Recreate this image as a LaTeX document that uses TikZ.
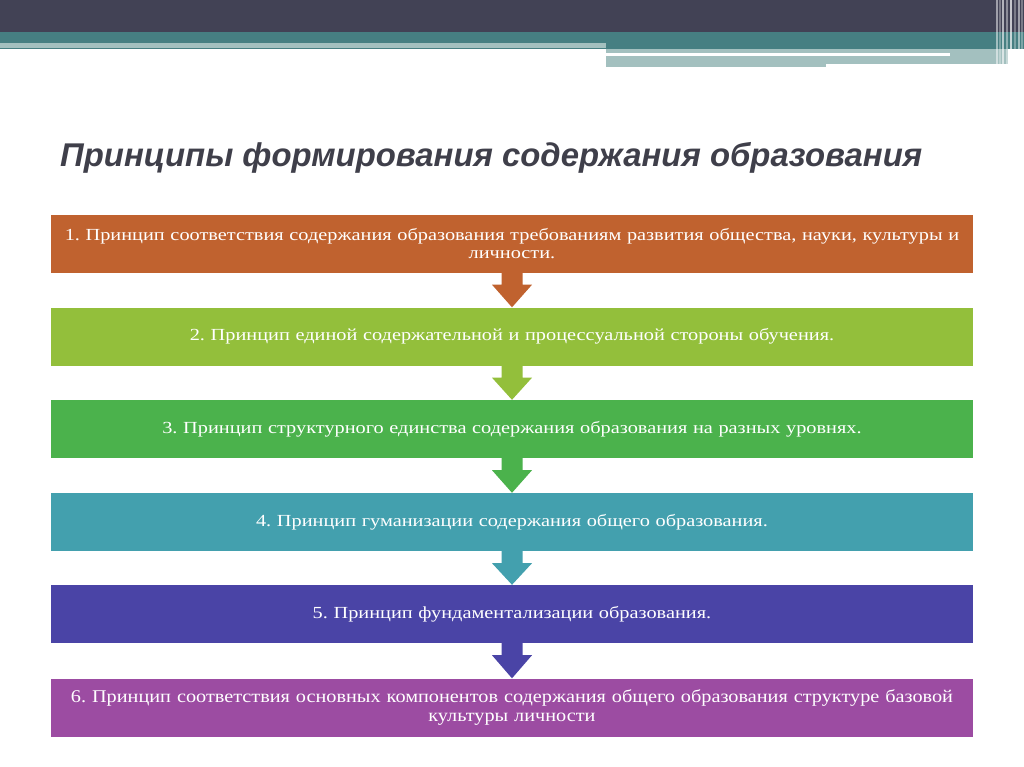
\documentclass[tikz,border=0pt]{standalone}
\usepackage{fontspec}
\setmainfont{Liberation Serif}
\newfontfamily\titlefont{Liberation Sans}
\newfontfamily\boxfont[FakeStretch=1.2]{Liberation Serif}
\newfontfamily\boxfontb[FakeStretch=1.13]{Liberation Serif}
\usetikzlibrary{calc}
\definecolor{cDark}{HTML}{424255}
\definecolor{cTeal}{HTML}{467F82}
\definecolor{cLight}{HTML}{A3C0BF}
\definecolor{cTitle}{HTML}{3F3F4A}
\definecolor{cA}{HTML}{C0622F}
\definecolor{cB}{HTML}{93BF3B}
\definecolor{cC}{HTML}{4BB24C}
\definecolor{cD}{HTML}{43A0AE}
\definecolor{cE}{HTML}{4A44A6}
\definecolor{cF}{HTML}{9C4CA2}
\begin{document}
\frenchspacing
\begin{tikzpicture}[x=1bp,y=-1bp,
  box/.style={draw=none,minimum width=922bp,minimum height=58bp,inner sep=0pt,text width=918bp,align=center,text=white,
    font=\boxfont\frenchspacing\fontsize{17}{18}\selectfont}]
\useasboundingbox (0,0) rectangle (1024,767);
\fill[white] (0,0) rectangle (1024,767);
% header bands
\fill[cDark] (0,0) rectangle (1024,32);
\fill[cTeal] (0,32) rectangle (1024,49);
\fill[cLight] (0,43) rectangle (606,48);
\fill[cLight] (606,49) rectangle (1008,67);
\fill[white] (606,53) rectangle (950,56);
\fill[white] (826,64) rectangle (1008,67);
\foreach \x/\o in {996/0.5,999/0.3,1002/0.6,1006/0.4,1010/0.7,1014/0.3,1018/0.5,1021/0.3}{
  \fill[white,opacity=\o] (\x,0) rectangle ++(1.5,67);
}
% title
\node[anchor=base west,inner sep=0pt,text=cTitle,font=\titlefont\bfseries\itshape\fontsize{33}{38}\selectfont] (title) at (60,166) {Принципы формирования содержания образования};
% boxes
\node[box,fill=cA] (b1) at (512,243.5) {1. Принцип соответствия содержания образования требованиям развития общества, науки, культуры и\\личности.};
\node[box,fill=cB] (b2) at (512,336.5) {2. Принцип единой содержательной и процессуальной стороны обучения.};
\node[box,fill=cC] (b3) at (512,429) {3. Принцип структурного единства содержания образования на разных уровнях.};
\node[box,fill=cD] (b4) at (512,522) {4. Принцип гуманизации содержания общего образования.};
\node[box,fill=cE] (b5) at (512,614) {5. Принцип фундаментализации образования.};
\node[box,fill=cF,font=\boxfontb\frenchspacing\fontsize{18}{19.5}\selectfont] (b6) at (512,707.5) {6. Принцип соответствия основных компонентов содержания общего образования структуре базовой\\культуры личности};
% arrows
\foreach \a/\b/\c in {b1/b2/cA,b2/b3/cB,b3/b4/cC,b4/b5/cD,b5/b6/cE}{
  \path (\a.south) coordinate (s) (\b.north) coordinate (t);
  \fill[\c] ($(s)+(-10.5,0)$) -- ($(s)+(10.5,0)$) -- ($(s)+(10.5,12)$) -- ($(s)+(20,12)$) -- (t) -- ($(s)+(-20,12)$) -- ($(s)+(-10.5,12)$) -- cycle;
}
\end{tikzpicture}
\end{document}
